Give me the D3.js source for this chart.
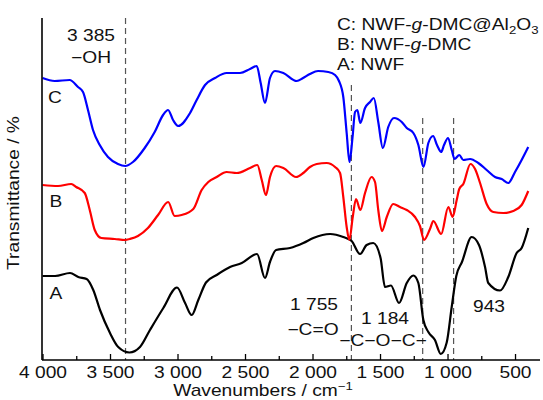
<!DOCTYPE html>
<html><head><meta charset="utf-8">
<script src="https://cdn.jsdelivr.net/npm/d3@7"></script>
<style>
html,body{margin:0;padding:0;background:#fff;}
svg{display:block;font-family:"Liberation Sans",Arial,sans-serif;}
</style></head>
<body><div id="chart"></div>
<script>
/* FTIR spectra of NWF, NWF-g-DMC and NWF-g-DMC@Al2O3.
   Transmittance is in arbitrary offset units (the curves are stacked, the axis has no ticks). */
var seriesC=[[4000,282],[3910,279],[3799,280],[3737,273],[3700,268],[3663,250],[3626,230],[3576,215],[3515,203],[3441,196],[3387,194],[3330,198],[3243,212],[3169,228],[3107,245],[3070,250],[3033,240],[2996,234],[2907,247],[2858,260],[2796,275],[2722,282],[2636,287],[2537,287],[2463,291],[2413,294],[2384,277],[2352,257],[2315,282],[2278,289],[2216,287],[2117,279],[2070,282],[2019,286],[1959,289],[1883,288],[1833,285],[1804,279],[1772,263],[1747,227],[1726,198],[1704,222],[1685,248],[1668,250],[1646,237],[1611,252],[1574,258],[1546,262],[1513,238],[1479,212],[1439,233],[1396,242],[1339,238],[1302,232],[1253,227],[1216,215],[1178,193],[1142,217],[1107,224],[1078,215],[1047,208],[1026,215],[996,222],[969,210],[948,201],[913,205],[883,200],[833,201],[772,197],[710,190],[648,183],[599,181],[550,177],[500,188],[451,200],[402,213]];
var seriesB=[[4000,175],[3885,174],[3787,176],[3750,173],[3687,167],[3650,150],[3613,130],[3564,122],[3465,121],[3387,120],[3354,121],[3293,124],[3219,132],[3144,145],[3069,158],[3021,144],[2969,145],[2883,151],[2821,170],[2772,178],[2710,183],[2636,188],[2562,187],[2463,192],[2409,195],[2376,180],[2345,165],[2315,183],[2270,194],[2216,192],[2122,183],[2068,187],[2019,193],[1969,196],[1895,197],[1833,193],[1796,187],[1772,163],[1747,133],[1727,120],[1702,143],[1678,161],[1646,150],[1611,167],[1563,183],[1537,178],[1513,150],[1486,129],[1450,143],[1402,156],[1352,153],[1302,150],[1241,143],[1204,134],[1174,120],[1130,131],[1105,139],[1047,126],[994,153],[962,143],[932,160],[913,171],[883,176],[830,196],[796,191],[759,177],[710,156],[661,148],[587,147],[513,149],[451,155],[402,169]];
var seriesA=[[4000,84],[3907,84],[3796,87],[3735,83],[3673,81],[3624,70],[3574,50],[3500,27],[3439,13],[3356,7.5],[3278,13],[3204,30],[3105,52],[3004,72.5],[2944,57],[2895,45],[2846,60],[2789,77.5],[2710,85],[2611,93],[2524,97],[2411,106],[2352,82],[2315,98],[2270,110],[2167,112],[2068,117],[1994,122],[1870,126],[1772,123],[1710,119],[1648,106],[1599,115],[1550,117],[1496,102],[1463,73],[1419,74.5],[1359,57],[1302,77],[1253,84.5],[1216,77],[1179,40],[1142,28],[1093,20],[1050,6],[1006,17.5],[969,53],[935,84],[893,98],[821,123],[767,115],[722,93],[698,77],[611,69.5],[550,83],[488,107],[451,112],[402,132]];
var seriesColors=["#000000","#ff0000","#0000ff"];
var curveLetters=["A","B","C"];
var majorTicks=[4000,3500,3000,2500,2000,1500,1000,500];
var minorTicks=[3750,3250,2750,2250,1750,1250,750];
var peakLines=[3385,1712,1184,955];   // dashed marker positions as drawn

var W=543,H=400,SX=1.2;
var svg=d3.select("#chart").append("svg").attr("width",W).attr("height",H);
var x=d3.scaleLinear().domain([4000,315]).range([42.5,540]);
var y=d3.scaleLinear().domain([0,342]).range([360,18]);

/* dashed marker lines (top ends differ) */
var lineTops=[18,85,118,118];
svg.append("g").selectAll("line").data(peakLines).enter().append("line")
    .attr("x1",function(d){return x(d);}).attr("x2",function(d){return x(d);})
    .attr("y1",function(d,i){return lineTops[i];}).attr("y2",360)
    .attr("stroke","#555").attr("stroke-width",1.2).attr("stroke-dasharray","6,4");

/* spectra */
var line=d3.line().x(function(d){return x(d[0]);}).y(function(d){return y(d[1]);}).curve(d3.curveMonotoneX);
[seriesA,seriesB,seriesC].forEach(function(s,i){
    svg.append("path").datum(s).attr("d",line).attr("fill","none")
        .attr("stroke",seriesColors[i]).attr("stroke-width",2.2).attr("stroke-linejoin","round");
});

/* axes */
var fmt=function(v){return d3.format(",")(v).replace(","," ");};
var gMinor=svg.append("g").attr("transform","translate(0,360)")
    .call(d3.axisBottom(x).tickValues(minorTicks).tickSize(-4).tickFormat(""));
gMinor.select(".domain").remove();
var gx=svg.append("g").attr("transform","translate(0,360)")
    .call(d3.axisBottom(x).tickValues(majorTicks).tickSize(-6).tickPadding(6.5).tickFormat(fmt));
gx.select(".domain").remove();
gx.attr("font-size",16).attr("font-family",null);
gx.selectAll("text").attr("transform","scale("+SX+",1)").attr("fill","#111");
svg.selectAll(".tick line").attr("stroke","#000").attr("stroke-width",1.3);
svg.append("line").attr("x1",42).attr("x2",540).attr("y1",360).attr("y2",360).attr("stroke","#000").attr("stroke-width",1.6);
svg.append("line").attr("x1",42).attr("x2",42).attr("y1",18).attr("y2",360).attr("stroke","#000").attr("stroke-width",1.6);

/* text helper: glyphs in the original are ~1.2x wide */
var tg=svg.append("g").attr("font-size",16).attr("fill","#111");
function txt(px,py,anchor,s){
    var t=tg.append("text").attr("transform","translate("+px+","+py+") scale("+SX+",1)").attr("text-anchor",anchor);
    if(s!==undefined) t.text(s);
    return t;
}

var xt=txt(263,396,"middle","Wavenumbers / cm");
xt.append("tspan").attr("font-size",11).attr("dy",-6).text("\u22121");
tg.append("text").attr("transform","translate(19,193) rotate(-90) scale("+SX+",1)")
    .attr("text-anchor","middle").text("Transmittance / %");

/* legend */
var l1=txt(337,30,"start");
l1.append("tspan").text("C: NWF-");
l1.append("tspan").attr("font-style","italic").text("g");
l1.append("tspan").text("-DMC@Al");
l1.append("tspan").attr("font-size",11).attr("dy",4).text("2");
l1.append("tspan").attr("dy",-4).text("O");
l1.append("tspan").attr("font-size",11).attr("dy",4).text("3");
var l2=txt(337,50,"start");
l2.append("tspan").text("B: NWF-");
l2.append("tspan").attr("font-style","italic").text("g");
l2.append("tspan").text("-DMC");
txt(337,69.5,"start","A: NWF");

/* curve letters */
txt(48,102.5,"start",curveLetters[2]);
txt(49.5,206.5,"start",curveLetters[1]);
txt(49.5,299,"start",curveLetters[0]);

/* peak annotations */
txt(91,40.5,"middle","3 385");
txt(91,63,"middle","\u2212OH");
txt(314,310,"middle","1 755");
txt(313,335,"middle","\u2212C=O");
txt(385,324,"middle","1 184");
txt(383,346,"middle","\u2212C\u2212O\u2212C\u2212");
txt(489,312,"middle","943");
</script>
</body></html>
